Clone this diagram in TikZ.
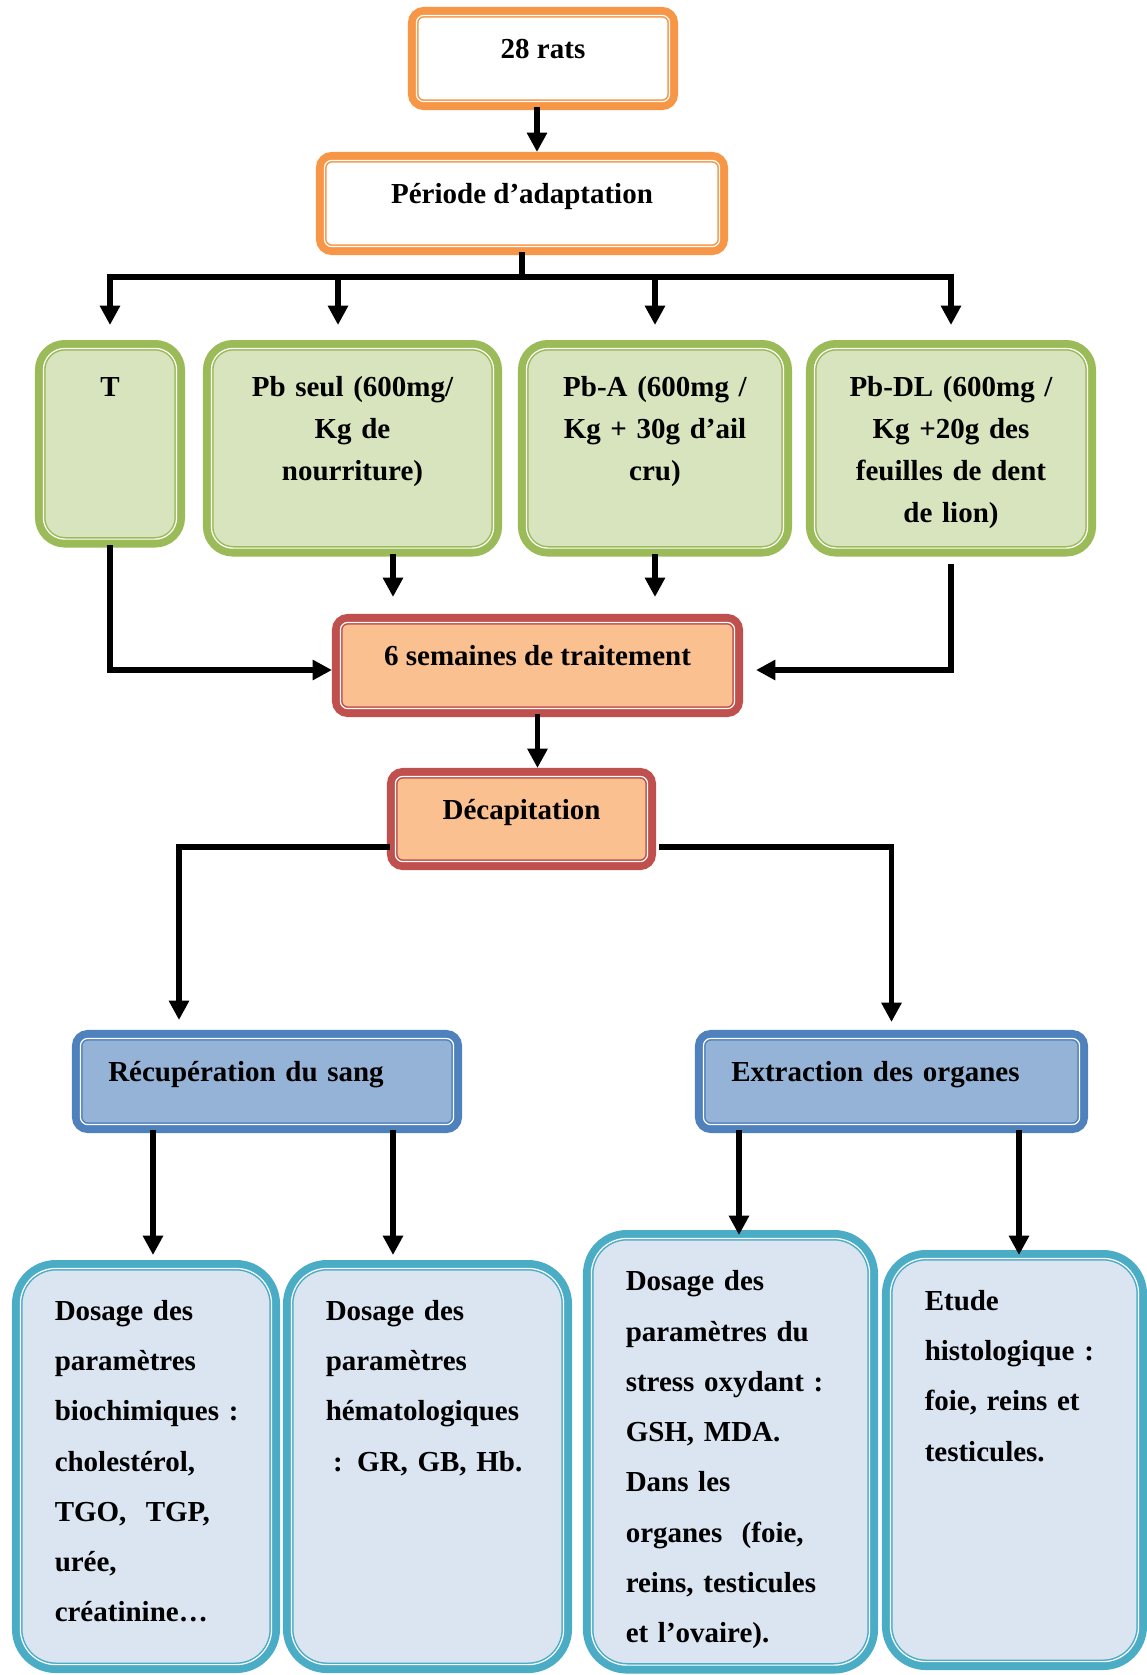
\documentclass[tikz,border=0pt]{standalone}
\usepackage{fontspec}
\setmainfont{Liberation Serif}
\usetikzlibrary{arrows.meta}
\definecolor{orangebord}{HTML}{F79646}
\definecolor{vertbord}{HTML}{9BBB59}
\definecolor{vertfond}{HTML}{D7E4BD}
\definecolor{rougebord}{HTML}{C0504D}
\definecolor{saumon}{HTML}{FAC090}
\definecolor{bleubord}{HTML}{4F81BD}
\definecolor{bleufond}{HTML}{95B3D7}
\definecolor{cyanbord}{HTML}{4BACC6}
\definecolor{cyanfond}{HTML}{DBE5F1}

\begin{document}
\begin{tikzpicture}[font=\bfseries\fontsize{16.5pt}{23.8pt}\selectfont,
		cadre/.style 2 args={draw=#1, line width=6pt, rounded corners=#2},
		filet/.style={white, line width=0.7pt},
		uneligne/.style={align=center, minimum height=1.85cm, text height=0.5em, text depth=0.5em},
		boiteorange/.style={cadre={orangebord}{6pt}, fill=white, uneligne},
		boiterouge/.style={cadre={rougebord}{6pt}, fill=saumon, uneligne},
		boitebleue/.style={cadre={bleubord}{6pt}, fill=bleufond, uneligne, align=left, inner xsep=0.62cm},
		boiteverte/.style={cadre={vertbord}{14pt}, fill=vertfond, align=center, anchor=north,
		    inner sep=0pt, text height=1.03cm},
		boitecyan/.style={cadre={cyanbord}{22pt}, fill=cyanfond, align=left, anchor=north,
		    inner xsep=0.75cm, inner ysep=0pt, text height=1.1cm,
		    font=\bfseries\fontsize{16.5pt}{28.6pt}\selectfont},
		trait/.style={line width=3.4pt, line cap=rect},
		fleche/.style={trait, -{Triangle[length=11pt, width=11pt]}}]
	\useasboundingbox (0,0) rectangle (22.94,-33.5);
	\node[boiteorange, minimum width=5.19cm] (rats) at (10.86,-1.17) {28 rats};
	\node[boiteorange, minimum width=8.03cm] (adapt) at (10.44,-4.07) {Période d’adaptation};
	\node[boiteverte, text width=2.79cm, text depth=2.91cm] (T) at (2.20,-6.80) {T};
	\node[boiteverte, text width=5.77cm, text depth=3.09cm] (pbseul) at (7.05,-6.80)
		{Pb seul (600mg/\\ Kg de\\ nourriture)};
	\node[boiteverte, text width=5.27cm, text depth=3.09cm] (pba) at (13.10,-6.80)
		{Pb-A (600mg /\\ Kg + 30g d’ail\\ cru)};
	\node[boiteverte, text width=5.59cm, text depth=3.09cm] (pbdl) at (19.02,-6.80)
		{Pb-DL (600mg /\\ Kg +20g des\\ feuilles de dent\\ de lion)};
	\node[boiterouge, minimum width=8.01cm] (sem) at (10.75,-13.31) {6 semaines de traitement};
	\node[boiterouge, minimum width=5.17cm, minimum height=1.83cm] (decap) at (10.43,-16.38) {Décapitation};
	\node[boitebleue, text width=6.35cm] (sang) at (5.34,-21.63) {Récupération du sang};
	\node[boitebleue, text width=6.41cm] (organes) at (17.83,-21.63) {Extraction des organes};
	\node[boitecyan, text width=3.65cm, text depth=6.95cm] (bio) at (2.92,-25.20)
		{Dosage des\\ paramètres\\ biochimiques~:\\ cholestérol,\\ TGO,\ \ TGP,\\ urée,\\ créatinine…};
	\node[boitecyan, text width=4.07cm, text depth=6.95cm] (hemato) at (8.55,-25.20)
		{Dosage des\\ paramètres\\ hématologiques\\ \hspace*{0.25em}: GR, GB, Hb.};
	\node[boitecyan, text width=4.19cm, text height=1.11cm, text depth=7.55cm] (stress) at (14.61,-24.60)
		{Dosage des\\ paramètres du\\ stress oxydant~:\\ GSH, MDA.\\ Dans les\\ organes\ \ (foie,\\ reins, testicules\\ et l’ovaire).};
	\node[boitecyan, text width=3.59cm, text depth=7.09cm] (histo) at (20.29,-25.00)
		{Etude\\ histologique~:\\ foie, reins et\\ testicules.};
	\foreach \n/\r in {rats/4.2pt, adapt/4.2pt, sem/4.2pt, decap/4.2pt, sang/4.2pt, organes/4.2pt,
	                   T/12.2pt, pbseul/12.2pt, pba/12.2pt, pbdl/12.2pt,
	                   bio/20.2pt, hemato/20.2pt, stress/20.2pt, histo/20.2pt}
		\draw[filet, rounded corners=\r] ([shift={(4.8pt,4.8pt)}]\n.south west)
		    rectangle ([shift={(-4.8pt,-4.8pt)}]\n.north east);

	\coordinate (ratsbas) at ([xshift=-0.12cm]rats.south);
	\draw[fleche] (ratsbas) -- (ratsbas |- adapt.north);
	\coordinate (bus) at (10.44,-5.54);
	\draw[trait] (adapt.south) -- (bus);
	\draw[trait] (bus -| T.north) -- (bus -| pbdl.north);
	\draw[fleche] (bus -| T.north) -- ([yshift=0.3cm]T.north);
	\draw[fleche] ([xshift=-0.29cm]bus -| pbseul.north) -- ([xshift=-0.29cm, yshift=0.3cm]pbseul.north);
	\draw[fleche] (bus -| pba.north) -- ([yshift=0.3cm]pba.north);
	\draw[fleche] (bus -| pbdl.north) -- ([yshift=0.3cm]pbdl.north);

	\coordinate (semhaut) at ([yshift=0.34cm]sem.north);
	\coordinate (pbsbas) at ([xshift=0.81cm]pbseul.south);
	\draw[fleche] (T.south) |- ([yshift=-0.09cm]sem.west);
	\draw[fleche] (pbsbas) -- (pbsbas |- semhaut);
	\draw[fleche] (pba.south) -- (pba.south |- semhaut);
	\draw[fleche] ([yshift=-0.2cm]pbdl.south) |- ([xshift=0.26cm, yshift=-0.09cm]sem.east);
	\draw[fleche] (sem.south) -- (sem.south |- decap.north);

	\draw[fleche] ([yshift=-0.56cm]decap.west) -| ([xshift=-1.76cm, yshift=0.2cm]sang.north);
	\draw[fleche] ([xshift=0.12cm, yshift=-0.56cm]decap.east) -| ([yshift=0.16cm]organes.north);
	\draw[fleche] ([xshift=-2.28cm]sang.south) -- ([xshift=0.14cm, yshift=0.1cm]bio.north);
	\draw[fleche] ([xshift=2.52cm]sang.south) -- ([xshift=-0.69cm, yshift=0.1cm]hemato.north);
	\draw[fleche] ([xshift=-3.05cm]organes.south) -- ([xshift=0.17cm, yshift=-0.1cm]stress.north);
	\draw[fleche] ([xshift=2.55cm]organes.south) -- ([xshift=0.09cm, yshift=-0.1cm]histo.north);
\end{tikzpicture}
\end{document}
